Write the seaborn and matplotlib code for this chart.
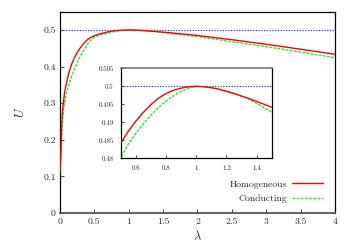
import matplotlib
matplotlib.use("Agg")
import matplotlib.pyplot as plt
import seaborn as sns
import pandas as pd

sns.set_style("ticks")
plt.rcParams['font.family'] = ['cmr10', 'DejaVu Serif']
plt.rcParams['mathtext.fontset'] = 'cm'
plt.rcParams['axes.formatter.use_mathtext'] = True

# Homogeneous (red)
lam_h = [0.001, 0.01, 0.024, 0.04, 0.068, 0.1, 0.13, 0.17, 0.22, 0.29, 0.35, 0.4, 0.45, 0.5, 0.55,
         0.6, 0.65, 0.7, 0.75, 0.8, 0.85, 0.9, 0.95, 1.0, 1.05, 1.1, 1.15, 1.2, 1.25, 1.3, 1.35,
         1.4, 1.45, 1.5, 2.0, 2.5, 3.0, 3.5, 4.0]
u_h = [0.11, 0.15, 0.24, 0.286, 0.331, 0.36, 0.383, 0.407, 0.428, 0.450, 0.4641, 0.4736, 0.4801,
       0.4842, 0.4875, 0.4903, 0.4928, 0.4949, 0.4967, 0.4980, 0.4989, 0.4995, 0.4999, 0.5,
       0.4999, 0.4996, 0.4992, 0.4986, 0.4980, 0.4973, 0.4966, 0.4958, 0.4950, 0.4942,
       0.485, 0.4735, 0.461, 0.4475, 0.4336]
# Conducting (green)
lam_c = [0.001, 0.015, 0.034, 0.053, 0.097, 0.175, 0.24, 0.3, 0.34, 0.4, 0.45, 0.5, 0.55,
         0.6, 0.65, 0.7, 0.75, 0.8, 0.85, 0.9, 0.95, 1.0, 1.05, 1.1, 1.15, 1.2, 1.25, 1.3, 1.35,
         1.4, 1.45, 1.5, 2.0, 2.5, 3.0, 3.5, 4.0]
u_c = [0.12, 0.17, 0.24, 0.286, 0.331, 0.377, 0.407, 0.430, 0.443, 0.4615, 0.4725, 0.4802, 0.4839,
       0.4869, 0.4896, 0.4920, 0.4941, 0.4959, 0.4974, 0.4986, 0.4995, 0.5,
       0.4999, 0.4997, 0.4993, 0.4988, 0.4981, 0.4973, 0.4964, 0.4953, 0.4941, 0.4928,
       0.482, 0.468, 0.4545, 0.4395, 0.4243]

ref_level = 0.5
main_xticks = [0, 0.5, 1, 1.5, 2, 2.5, 3, 3.5, 4]
main_xlabels = ["0", "0.5", "1", "1.5", "2", "2.5", "3", "3.5", "4"]
main_yticks = [0, 0.1, 0.2, 0.3, 0.4, 0.5]
main_ylabels = ["0", "0.1", "0.2", "0.3", "0.4", "0.5"]
inset_xticks = [0.6, 0.8, 1.0, 1.2, 1.4]
inset_xlabels = ["0.6", "0.8", "1", "1.2", "1.4"]
inset_yticks = [0.48, 0.485, 0.49, 0.495, 0.5, 0.505]
inset_ylabels = ["0.48", "0.485", "0.49", "0.495", "0.5", "0.505"]

df = pd.concat([
    pd.DataFrame({"lam": lam_h, "U": u_h, "model": "Homogeneous"}),
    pd.DataFrame({"lam": lam_c, "U": u_c, "model": "Conducting"}),
])

colors = {"Homogeneous": "#ff0000", "Conducting": "#22ee22"}

fig = plt.figure(figsize=(3.5, 2.45), dpi=100)
ax = fig.add_axes([0.1714, 0.1306, 0.7857, 0.8216])

def draw(a, lw):
    a.axhline(ref_level, color="#3333ff", ls=(0, (1, 1.2)), lw=0.9, zorder=1)
    sub = df[df.model == "Homogeneous"]
    sns.lineplot(data=sub, x="lam", y="U", ax=a, color=colors["Homogeneous"], lw=lw,
                 label="Homogeneous", sort=False, estimator=None, zorder=3)
    sub = df[df.model == "Conducting"]
    sns.lineplot(data=sub, x="lam", y="U", ax=a, color=colors["Conducting"], lw=lw,
                 ls=(0, (2, 1)), label="Conducting", sort=False, estimator=None, zorder=2)

draw(ax, 1.0)
ax.set_xlim(0, 4)
ax.set_ylim(0, 0.55)
ax.set_xticks(main_xticks, main_xlabels)
ax.set_yticks(main_yticks, main_ylabels)
ax.tick_params(direction="in", length=3, labelsize=7, width=0.6, pad=3)
ax.set_xlabel(r"$\lambda$", fontsize=9, labelpad=3)
ax.set_ylabel(r"$U$", fontsize=9, labelpad=12)
for s in ax.spines.values():
    s.set_linewidth(0.9)
    s.set_color("black")
ax.spines["bottom"].set_color("#555555")
ax.spines["bottom"].set_linewidth(1.3)
leg = ax.legend(loc="lower right", frameon=False, markerfirst=False, fontsize=7,
                handlelength=3.2, handletextpad=0.5, labelspacing=0.6,
                bbox_to_anchor=(0.99, 0.005))

ins = fig.add_axes([0.345, 0.354, 0.431, 0.367])
draw(ins, 1.0)
ins.set_xlim(0.5, 1.5)
ins.set_ylim(0.48, 0.505)
ins.set_xticks(inset_xticks, inset_xlabels)
ins.set_yticks(inset_yticks, inset_ylabels)
ins.tick_params(direction="in", length=2.5, labelsize=5, width=0.6, pad=5)
ins.set_xlabel("")
ins.set_ylabel("")
ins.get_legend().remove()
for s in ins.spines.values():
    s.set_linewidth(0.9)
    s.set_color("black")
ins.spines["top"].set_color("#777777")
ins.spines["top"].set_linewidth(1.2)

fig.savefig("out.png", dpi=100)
